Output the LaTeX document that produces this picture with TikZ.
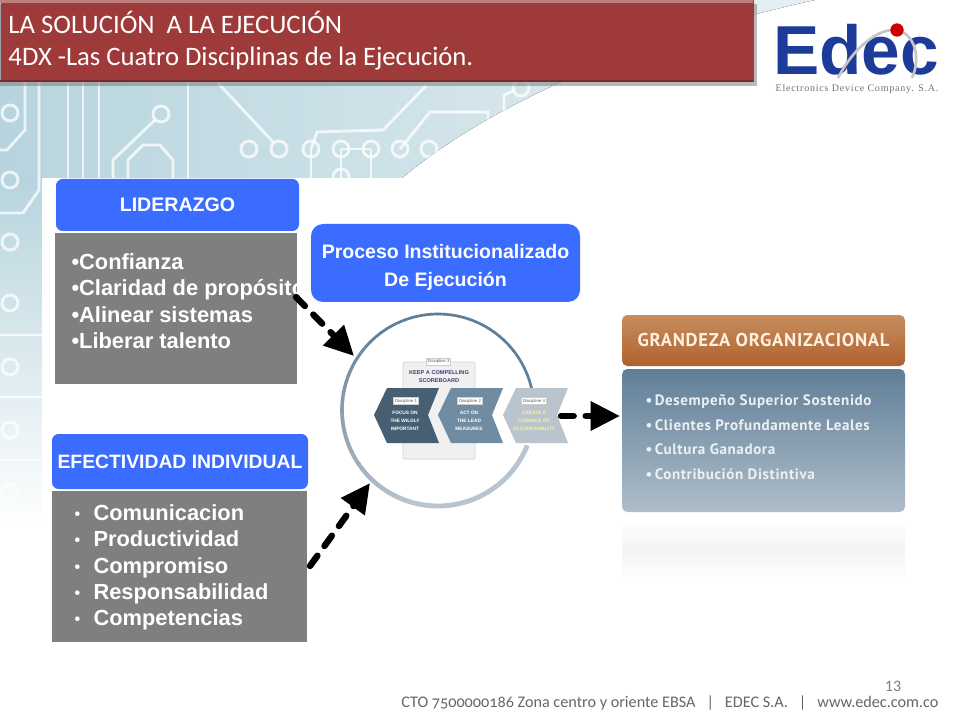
\documentclass[tikz,border=0pt]{standalone}
\usepackage{fontspec}
\usetikzlibrary{arrows.meta}
\newfontfamily\titlefont{Carlito}
\newfontfamily\footfont[Numbers=OldStyle]{Carlito}
\newfontfamily\boxfont{Liberation Sans}
\newfontfamily\gradefont[LetterSpace=4]{PT Sans}
\newfontfamily\logofont{Liberation Sans}
\newfontfamily\capfont[LetterSpace=8]{Liberation Serif}
\definecolor{blueboxc}{HTML}{3A6CFF}
\definecolor{grayboxc}{HTML}{7F7F7F}
\definecolor{titlec}{HTML}{9E3A3A}
\definecolor{ringdark}{HTML}{5F7F98}
\definecolor{ringlight}{HTML}{B9C4CF}
\definecolor{logoc}{HTML}{1D3C9A}
\definecolor{bgblue}{HTML}{B7D4DE}
\definecolor{bgpale}{HTML}{E6F0F3}
\definecolor{grandtop}{HTML}{C68E5E}
\definecolor{grandbot}{HTML}{B0612F}
\tikzset{every picture/.style={line width=0.75pt},
  bluebox/.style={fill=blueboxc,rounded corners=5pt,inner sep=0pt,text=white,align=center,font=\boxfont\bfseries},
  graybox/.style={fill=grayboxc,inner sep=0pt},
  listtext/.style={anchor=west,inner sep=0pt,text=white,align=left},
  trace/.style={draw=white,draw opacity=0.75,line width=2.2pt},
  pad/.style={circle,draw=white,draw opacity=0.75,line width=2.2pt,minimum size=12pt,inner sep=0pt},
  dasharrow/.style={line width=4.8pt,line cap=round,dash pattern=on 9.5pt off 9pt,-{Triangle[length=22pt,width=21pt]}},
  chevtext/.style={inner sep=0pt,align=center,font=\boxfont\bfseries\fontsize{3.6}{6}\selectfont},
  chevtab/.style={fill=white,draw=gray!40,line width=0.4pt,inner sep=1pt,text=gray!70!black,font=\boxfont\fontsize{3.2}{4}\selectfont},
}
\newcommand{\itm}[1]{\makebox[14.25pt][l]{\raisebox{0.8pt}{\fontsize{12}{12}\selectfont•}}#1}
\newcommand{\gitm}[1]{\makebox[7pt][l]{•}#1}
\begin{document}
\begin{tikzpicture}[x=0.75pt,y=0.75pt,yscale=-1,xscale=1]
\useasboundingbox (0,0) rectangle (960,720);
\fill[white] (0,0) rectangle (960,720);

% Background top and left strip
\fill[left color=bgblue,right color=bgpale] (0,0) -- (815,0) .. controls (700,25) and (520,80) .. (402,178) -- (0,178) -- cycle;
\fill[top color=bgblue,bottom color=white] (0,178) rectangle (42,530);

% Circuit traces
\begin{scope}
\clip (0,0) -- (815,0) .. controls (700,25) and (520,80) .. (402,178) -- (42,178) -- (42,530) -- (0,530) -- cycle;
\draw[trace] (25,80) -- (25,130) -- (7,150) -- (0,150);
\draw[trace] (39,80) -- (39,190) -- (23,213) -- (0,213);
\draw[trace] (68,80) -- (68,178);
\draw[trace] (83,80) -- (83,178);
\draw[trace] (99,80) -- (99,178);
\draw[trace] (188,80) -- (188,178);
\draw[trace] (155,120) -- (113,160) -- (113,178);
\draw[trace] (128,178) -- (128,160) -- (143,145) -- (160,145) -- (173,160) -- (173,178);
\draw[trace] (218,83) -- (273,142);
\draw[trace] (311,149) -- (317,132) -- (383,130) -- (427,85);
\draw[trace] (311,149) -- (311,178);
\draw[trace] (341,149) -- (371,149);
\draw[trace] (341,149) -- (341,178);
\draw[trace] (371,149) -- (371,178);
\draw[trace] (400,149) -- (430,112) -- (488,112) -- (488,125);
\draw[trace] (504,113) -- (504,95) -- (515,90);
\draw[trace] (0,335) -- (42,335);
\draw[trace] (0,397) -- (42,397);
\draw[trace] (0,460) -- (42,460);
\foreach \p/\q in {10/113,10/180,10/242,10/303,10/367,10/430,10/492,161/114,249/149,279/149,311/149,341/149,371/149,400/149,429/149,521/88,341/177}
  \node[pad] (pad\p-\q) at (\p,\q) {};
\end{scope}

% Panel
\fill[white] (42,179) rectangle (935,650);

% Title bar
\fill[gray,opacity=0.55] (0,4) rectangle (757,86);
\node[fill=titlec,inner sep=0pt,minimum width=564.75pt,minimum height=61.5pt,anchor=north west] (titlebar) at (0,0) {};
\fill[titlec!65!white] (0,0) rectangle (753,3);
\fill[titlec!75!black] (0,80) rectangle (753,82);
\node[anchor=west,inner sep=0pt,text=white,align=left,font=\titlefont\fontsize{20}{24}\selectfont] (titletext) at (8,41) {LA SOLUCIÓN\ \ A LA EJECUCIÓN\\4DX -Las Cuatro Disciplinas de la Ejecución.};

% Logo
\node[inner sep=0pt,text=logoc,font=\logofont\bfseries\fontsize{52}{52}\selectfont] (logoword) at (856,50) {Edec};
\draw[gray!45,line width=2pt] (838,78) .. controls (855,45) and (880,28) .. (897,30) .. controls (915,34) and (921,58) .. (912,78);
\node[circle,fill=red!80!black,minimum size=10pt,inner sep=0pt] (logoball) at (897,30) {};
\node[inner sep=0pt,text=gray!90!black,font=\capfont\fontsize{7.5}{8}\selectfont] (logocap) at (857,89) {Electronics Device Company. S.A.};

% Left boxes
\node[bluebox,minimum width=182.25pt,minimum height=39pt,font=\boxfont\bfseries\fontsize{14.7}{17}\selectfont] (liderazgo) at (177.5,205) {LIDERAZGO};
\node[graybox,minimum width=181.5pt,minimum height=113.25pt] (lidbody) at (176,308.5) {};
\node[listtext,font=\boxfont\bfseries\fontsize{16.4}{19.8}\selectfont] (lidlist) at (71,301) {•Confianza\\•Claridad de propósito\\•Alinear sistemas\\•Liberar talento};
\node[bluebox,minimum width=192pt,minimum height=41.25pt,font=\boxfont\bfseries\fontsize{14.5}{16}\selectfont] (efectividad) at (180,461.5) {EFECTIVIDAD INDIVIDUAL};
\node[graybox,minimum width=191.25pt,minimum height=113.25pt] (efebody) at (179.5,566.5) {};
\node[listtext,font=\boxfont\bfseries\fontsize{16.4}{19.8}\selectfont] (efelist) at (74,567.5) {\itm{Comunicacion}\\\itm{Productividad}\\\itm{Compromiso}\\\itm{Responsabilidad}\\\itm{Competencias}};

% Process box
\node[bluebox,minimum width=201.75pt,minimum height=58.5pt,rounded corners=9pt,font=\boxfont\bfseries\fontsize{14.65}{21}\selectfont] (proceso) at (445.5,263) {\rule{0pt}{17pt}Proceso Institucionalizado\\De Ejecución};

% Ring
\foreach \a in {10,14,...,334}{
  \pgfmathsetmacro\mixval{min(100,max(0,(250-\a)/1.3))}
  \pgfmathsetmacro\ringw{2+1.6*(100-\mixval)/100}
  \draw[draw=ringdark!\mixval!ringlight,line width=\ringw pt] ([shift={(438,410)}]-\a:96) arc[start angle=-\a,end angle=-\a-4.4,radius=96];
}

% Disciplines
\fill[gray!12,draw=gray!35,line width=0.6pt,rounded corners=1pt] (403,362) rectangle (475,459);
\node[chevtab] (tabthree) at (438.5,361.5) {Discipline 3};
\node[chevtext,text=gray!70!blue!70!black,font=\boxfont\bfseries\fontsize{4.2}{6}\selectfont] (scoreboard) at (439,377) {KEEP A COMPELLING\\SCOREBOARD};
\foreach \x/\c in {0/ringdark!75!black,64/ringdark!90!white,129/ringlight}
  \fill[\c,shift={(\x,0)}] (374,415) -- (387,388) -- (439,388) -- (428,415) -- (439,443) -- (387,443) -- cycle;
\node[chevtab] (tabone) at (406,401) {Discipline 1};
\node[chevtab] (tabtwo) at (470,401) {Discipline 2};
\node[chevtab] (tabfour) at (534,401) {Discipline 4};
\node[chevtext,text=white] (focus) at (405,421) {FOCUS ON\\THE WILDLY\\IMPORTANT};
\node[chevtext,text=white] (act) at (469,421) {ACT ON\\THE LEAD\\MEASURES};
\node[chevtext,text=yellow!50!white] (cadence) at (534,421) {CREATE A\\CADENCE OF\\ACCOUNTABILITY};

% Right box
\node[top color=grandtop,bottom color=grandbot,rounded corners=4pt,inner sep=0pt,minimum width=212.25pt,minimum height=38.25pt,text=orange!12!white,font=\gradefont\bfseries\fontsize{13.9}{15}\selectfont] (grandeza) at (763.5,340.5) {GRANDEZA ORGANIZACIONAL};
\node[top color=ringdark,bottom color=ringlight!90!ringdark,rounded corners=4pt,inner sep=0pt,minimum width=212.25pt,minimum height=107.25pt] (grandbody) at (763.5,440.5) {};
\node[listtext,text=white!88!ringdark,font=\gradefont\bfseries\fontsize{11.3}{18.4}\selectfont] (grandlist) at (645,437) {\gitm{Desempeño Superior Sostenido}\\\gitm{Clientes Profundamente Leales}\\\gitm{Cultura Ganadora}\\\gitm{Contribución Distintiva}};
\fill[top color=white,bottom color=white,middle color=gray!9] (622,518) rectangle (905,582);

% Arrows
\coordinate (lidfrom) at (296,297);
\coordinate (lidto) at (354,356);
\coordinate (efefrom) at (310,566);
\coordinate (efeto) at (370,483);
\coordinate (cadfrom) at (561,416);
\coordinate (cadto) at (620,416);
\draw[dasharrow] (lidfrom) -- (lidto);
\draw[dasharrow] (efefrom) -- (efeto);
\draw[dasharrow] (cadfrom) -- (cadto);

% Footer
\node[inner sep=0pt,text=gray,font=\titlefont\fontsize{12}{14}\selectfont] (pagenum) at (893,686) {13};
\node[anchor=east,inner sep=0pt,text=gray!80!black,font=\footfont\fontsize{12.15}{14}\selectfont] (footer) at (939,703) {CTO 7500000186 Zona centro y oriente EBSA\ \ \ |\ \ \ EDEC S.A.\ \ \ |\ \ \ www.edec.com.co};
\end{tikzpicture}
\end{document}
